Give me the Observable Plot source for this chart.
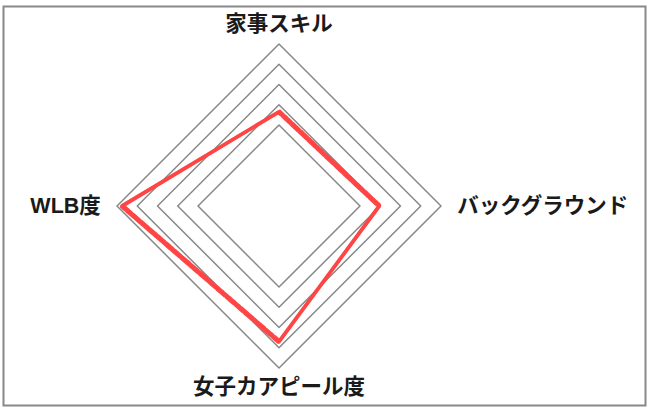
<!DOCTYPE html>
<html>
<head>
<meta charset="utf-8">
<script src="https://cdn.jsdelivr.net/npm/d3@7"></script>
<script src="https://cdn.jsdelivr.net/npm/@observablehq/plot@0.6"></script>
<style>
  html, body { margin: 0; padding: 0; background: #fff; }
  #chart svg { display: block; }
</style>
</head>
<body>
<div id="chart"></div>
<script>
// Data
const axes = ["家事スキル", "バックグラウンド", "女子カアピール度", "WLB度"];
const values = [4.65, 4.95, 6.7, 7.75];
const levels = [4, 5, 6, 7, 8];
const maxValue = 8;

// polar helpers (angles clockwise from top)
const angle = i => (2 * Math.PI * i) / axes.length;
const px = (r, i) => r * Math.sin(angle(i));
const py = (r, i) => r * Math.cos(angle(i));

const gridData = levels.flatMap(l => axes.map((a, i) => ({level: l, x: px(l, i), y: py(l, i)})));
const dataPts = axes.map((a, i) => ({axis: a, x: px(values[i], i), y: py(values[i], i)}));
const vertLabels = axes.map((a, i) => ({axis: a, i})).filter(d => d.i % 2 === 0)
  .map(d => ({label: d.axis, x: px(maxValue * 1.12, d.i), y: py(maxValue * 1.12, d.i)}));
const horizLabels = axes.map((a, i) => ({axis: a, i})).filter(d => d.i % 2 === 1)
  .map(d => ({label: d.axis, x: px(maxValue * 1.1, d.i), y: py(maxValue * 1.1, d.i), anchor: d.i === 1 ? "start" : "end"}));

const cx = 278.5, cy = 205.5, R = 162;
const font = "'Liberation Sans', 'Noto Sans CJK JP', sans-serif";

const textOpts = {x: "x", y: "y", text: "label", fontSize: 21.5, fontWeight: "bold", fill: "#1a1a1a"};
const red = "#ff4545";

const chart = Plot.plot({
  width: 651,
  height: 413,
  marginLeft: 3,
  marginTop: 6,
  marginRight: 6,
  marginBottom: 8,
  style: {background: "#fff", fontFamily: font},
  x: {domain: [-maxValue, maxValue], range: [cx - R, cx + R], axis: null},
  y: {domain: [-maxValue, maxValue], range: [cy + R, cy - R], axis: null},
  marks: [
    Plot.frame({stroke: "#888", strokeWidth: 2}),
    Plot.line(gridData, {x: "x", y: "y", z: "level", curve: "linear-closed", stroke: "#888", strokeWidth: 1.5}),
    Plot.line(dataPts, {x: "x", y: "y", curve: "linear-closed", stroke: red, strokeWidth: 3.8, strokeLinejoin: "round"}),
    Plot.line(dataPts, {x: "x", y: "y", curve: "linear-closed", stroke: red, strokeWidth: 2.4, dx: 1, dy: -1, strokeDasharray: "5 2 3 1"}),
    Plot.line(dataPts, {x: "x", y: "y", curve: "linear-closed", stroke: red, strokeWidth: 2.2, dx: -1, dy: 1, strokeDasharray: "3 2 6 1"}),
    Plot.text(vertLabels, {...textOpts, textAnchor: "middle"}),
    Plot.text(horizLabels.filter(d => d.anchor === "start"), {...textOpts, textAnchor: "start"}),
    Plot.text(horizLabels.filter(d => d.anchor === "end"), {...textOpts, textAnchor: "end"})
  ]
});

document.getElementById("chart").appendChild(chart);
</script>
</body>
</html>
